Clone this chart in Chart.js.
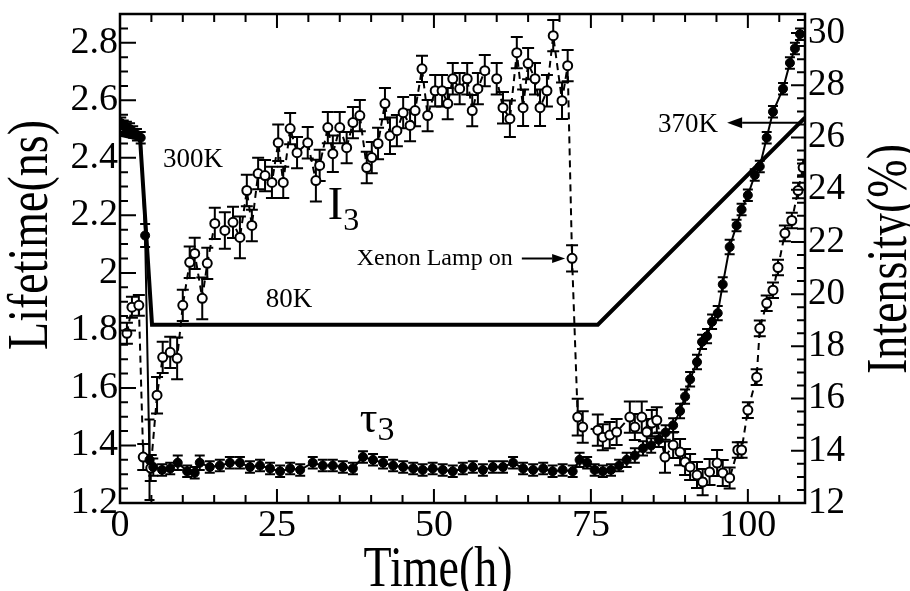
<!DOCTYPE html>
<html><head><meta charset="utf-8">
<script src="https://cdn.jsdelivr.net/npm/chart.js@4.4.1/dist/chart.umd.min.js"></script>
<style>html,body{margin:0;padding:0;background:#fff}canvas{display:block}</style>
</head><body>
<canvas id="c" width="910" height="591"></canvas>
<script>
// ---- tick labels ----
const xTicks = [0, 25, 50, 75, 100];
const leftTicks = [1.2, 1.4, 1.6, 1.8, 2.0, 2.2, 2.4, 2.6, 2.8];
const leftTickLabels = ['1.2', '1.4', '1.6', '1.8', '2', '2.2', '2.4', '2.6', '2.8'];
const rightTicks = [12, 14, 16, 18, 20, 22, 24, 26, 28, 30];

// ---- tau3 lifetime (ns), filled markers, solid line ----
const tauTime = [0.2,0.6,1.1,1.6,2.1,2.7,3.3,4.0,4.7,
  5.3,6.7,8.0,9.2,10.7,11.9,12.7,14.3,15.9,17.5,19.1,20.7,22.3,23.9,25.5,27.1,28.7,30.7,32.3,33.9,
  35.5,37.1,38.7,40.3,41.9,43.5,45.1,46.7,48.2,49.8,51.4,53.0,54.6,56.2,57.8,59.4,61.0,62.6,64.2,65.8,
  67.4,68.9,70.5,
  72.1,73.2,74.4,75.6,76.9,78.2,79.5,80.7,82.0,83.3,84.6,85.8,86.9,88.1,89.2,90.0,90.8,91.9,92.7,93.5,
  94.3,95.2,96.0,97.1,98.2,99.0,100.0,101.1,101.9,103.0,104.0,105.6,106.7,107.5,108.3];
const tau = [2.52,2.51,2.505,2.50,2.49,2.48,2.47,2.13,1.35,
  1.325,1.315,1.32,1.34,1.31,1.305,1.34,1.325,1.33,1.34,1.34,1.325,1.33,1.32,1.31,1.32,1.315,1.34,1.33,1.33,
  1.325,1.32,1.36,1.35,1.34,1.33,1.325,1.32,1.315,1.32,1.315,1.31,1.32,1.325,1.315,1.325,1.325,1.34,1.32,1.315,
  1.32,1.31,1.315,
  1.31,1.35,1.34,1.315,1.31,1.315,1.33,1.35,1.365,1.39,1.40,1.42,1.445,1.47,1.52,1.57,1.63,1.69,1.76,1.78,
  1.83,1.86,1.96,2.09,2.165,2.22,2.27,2.34,2.37,2.47,2.56,2.64,2.73,2.78,2.83];
const tauErr = [0.02,0.02,0.02,0.02,0.02,0.02,0.02,0.04,0.14,
  0.03,0.02,0.02,0.025,0.02,0.02,0.025,0.02,0.02,0.02,0.02,0.02,0.02,0.02,0.02,0.02,0.02,0.02,0.02,0.02,
  0.02,0.02,0.02,0.02,0.02,0.02,0.02,0.02,0.02,0.02,0.02,0.02,0.02,0.02,0.02,0.02,0.02,0.02,0.02,0.02,
  0.02,0.02,0.02,
  0.02,0.025,0.02,0.02,0.02,0.02,0.02,0.025,0.025,0.025,0.025,0.025,0.025,0.025,0.025,0.025,0.025,0.025,0.025,0.025,
  0.025,0.025,0.025,0.025,0.02,0.02,0.02,0.02,0.02,0.02,0.02,0.02,0.02,0.02,0.02];

// ---- I3 intensity (%), open markers, dashed line ----
const intTime = [1.1,1.9,3.0,3.7,4.9,5.9,6.8,8.0,9.1,10.0,
  11.1,11.9,13.1,13.9,15.1,16.7,18.0,19.1,20.2,21.0,
  22.0,23.1,24.2,25.2,26.0,27.1,28.2,29.9,31.2,31.8,
  33.1,33.9,35.0,36.1,37.1,38.2,39.3,40.1,41.1,42.2,
  43.0,44.1,45.1,46.2,47.0,48.1,49.0,50.2,51.3,52.2,
  53.0,54.1,55.3,56.1,57.0,58.1,60.0,61.0,62.1,63.2,
  64.2,65.0,66.1,66.9,68.0,69.0,70.4,71.3,72.0,72.9,
  73.7,76.1,76.9,78.0,79.1,81.2,82.0,83.1,83.9,84.7,
  85.5,86.8,88.1,89.2,90.0,90.8,91.9,92.8,93.9,95.1,
  96.0,97.1,98.4,99.0,100.0,101.4,101.9,103.0,104.0,104.8,
  105.9,107.0,108.0,108.8];
const inten = [18.50,19.50,19.57,13.76,13.34,16.13,17.58,17.77,17.54,19.57,
  21.22,21.56,19.84,21.18,22.71,22.44,22.75,22.17,23.97,22.63,
  24.62,24.54,24.28,25.80,24.28,26.34,25.42,25.80,24.35,24.93,
  26.38,25.38,26.38,25.61,26.57,26.84,24.85,25.23,25.77,27.30,
  26.07,26.26,26.95,26.46,27.03,28.63,26.84,27.79,27.79,27.30,
  28.25,27.87,28.25,27.03,27.87,28.56,28.25,27.14,26.72,29.25,
  27.14,28.83,28.25,27.14,27.79,29.90,27.41,28.75,21.37,15.29,
  14.91,14.79,14.52,14.60,14.72,15.29,14.91,15.29,14.72,15.06,
  15.17,13.76,14.22,13.95,13.57,13.38,13.07,12.80,13.19,13.53,
  13.15,12.96,14.03,14.03,15.56,16.82,18.69,19.65,20.15,21.02,
  22.33,22.82,23.97,24.85];
const intErr = [0.4,0.4,0.4,0.5,0.5,0.7,0.6,0.6,0.8,0.6,
  0.6,0.6,0.8,0.6,0.6,0.7,0.6,0.8,0.6,0.6,
  0.6,0.6,0.6,0.7,0.6,0.6,0.6,0.6,0.8,0.6,
  0.6,0.7,0.6,0.6,0.6,0.6,0.6,0.6,0.6,0.6,
  0.7,0.6,0.6,0.6,0.6,0.5,0.6,0.6,0.6,0.6,
  0.6,0.6,0.6,0.6,0.6,0.6,0.6,0.6,0.7,0.6,
  0.7,0.6,0.6,0.7,0.6,0.6,0.7,0.6,0.5,0.7,
  0.6,0.6,0.5,0.5,0.5,0.6,0.5,0.6,0.5,0.5,
  0.5,0.6,0.5,0.5,0.5,0.5,0.5,0.5,0.5,0.5,
  0.5,0.4,0.3,0.3,0.3,0.3,0.3,0.3,0.3,0.3,
  0.3,0.3,0.3,0.3];

// ---- temperature program (drawn on lifetime scale) ----
const tempTime = [0, 3.2, 5.1, 76.1, 109.1];
const tempLevel = [2.48, 2.465, 1.82, 1.82, 2.54];

const pts = (xs, ys) => xs.map((x, i) => ({x: x, y: ys[i]}));
const SERIF = "'Liberation Serif','Times New Roman',serif";

const errorBars = {
  id: 'errorBars',
  beforeDatasetsDraw(chart) {
    const ctx = chart.ctx, a = chart.chartArea;
    ctx.save();
    ctx.beginPath(); ctx.rect(a.left, a.top, a.right - a.left, a.bottom - a.top); ctx.clip();
    ctx.strokeStyle = '#000'; ctx.lineWidth = 2;
    chart.data.datasets.forEach((ds) => {
      if (!ds.errorBars) return;
      const xs = chart.scales.x, ys = chart.scales[ds.yAxisID];
      ds.data.forEach((p, i) => {
        const e = ds.errorBars[i];
        const px = xs.getPixelForValue(p.x);
        const y1 = ys.getPixelForValue(p.y - e), y2 = ys.getPixelForValue(p.y + e);
        const cw = ds.capHalf;
        ctx.beginPath();
        ctx.moveTo(px, y1); ctx.lineTo(px, y2);
        ctx.moveTo(px - cw, y1); ctx.lineTo(px + cw, y1);
        ctx.moveTo(px - cw, y2); ctx.lineTo(px + cw, y2);
        ctx.stroke();
      });
    });
    ctx.restore();
  }
};

function arrow(ctx, x1, y1, x2, y2, hl, hw) {
  const ang = Math.atan2(y2 - y1, x2 - x1);
  ctx.beginPath(); ctx.moveTo(x1, y1);
  ctx.lineTo(x2 - hl * Math.cos(ang), y2 - hl * Math.sin(ang)); ctx.stroke();
  ctx.save(); ctx.translate(x2, y2); ctx.rotate(ang);
  ctx.beginPath(); ctx.moveTo(0, 0); ctx.lineTo(-hl, -hw / 2); ctx.lineTo(-hl, hw / 2); ctx.closePath(); ctx.fill();
  ctx.restore();
}
function stretched(ctx, text, x, y, rot, sy, font) {
  ctx.save(); ctx.translate(x, y); ctx.rotate(rot); ctx.scale(1, sy);
  ctx.font = font; ctx.textAlign = 'center'; ctx.textBaseline = 'alphabetic';
  ctx.fillText(text, 0, 0); ctx.restore();
}

const decor = {
  id: 'decor',
  beforeDraw(chart) {
    const ctx = chart.ctx; ctx.save(); ctx.fillStyle = '#fff';
    ctx.fillRect(0, 0, chart.width, chart.height); ctx.restore();
  },
  afterDraw(chart) {
    const ctx = chart.ctx, a = chart.chartArea;
    const xs = chart.scales.x, yl = chart.scales.y, yr = chart.scales.y1;
    ctx.save();
    ctx.strokeStyle = '#000'; ctx.fillStyle = '#000';
    // frame
    ctx.lineWidth = 2.5;
    ctx.strokeRect(a.left, a.top, a.right - a.left, a.bottom - a.top);
    // ticks (inward)
    ctx.lineWidth = 2;
    ctx.beginPath();
    for (let v = 0; v <= 109; v += 5) {
      const px = xs.getPixelForValue(v);
      const major = xTicks.includes(v);
      const L = major ? 14 : 8;
      ctx.moveTo(px, a.bottom); ctx.lineTo(px, a.bottom - L);
      ctx.moveTo(px, a.top); ctx.lineTo(px, a.top + L);
    }
    for (let k = 0; k <= 34; k++) {
      const v = 1.2 + k * 0.05;
      const py = yl.getPixelForValue(v);
      const L = (k % 4 === 0) ? 16 : 8;
      ctx.moveTo(a.left, py); ctx.lineTo(a.left + L, py);
    }
    for (let k = 0; k <= 37; k++) {
      const v = 12 + k * 0.5;
      const py = yr.getPixelForValue(v);
      const L = (k % 4 === 0) ? 14 : 8;
      ctx.moveTo(a.right, py); ctx.lineTo(a.right - L, py);
    }
    ctx.stroke();

    // axis titles
    ctx.fillStyle = '#000';
    stretched(ctx, 'Time(h)', 438, 586, 0, 1.22, '46px ' + SERIF);
    stretched(ctx, 'Lifetime(ns)', 47, 235, -Math.PI / 2, 1.22, '46px ' + SERIF);
    stretched(ctx, 'Intensity(%)', 906, 259, -Math.PI / 2, 1.22, '46px ' + SERIF);

    // annotations
    const X = (v) => xs.getPixelForValue(v), Y = (v) => yl.getPixelForValue(v);
    ctx.textAlign = 'left'; ctx.textBaseline = 'middle';
    ctx.font = '27px ' + SERIF;
    ctx.fillText('300K', X(6.85), Y(2.394));
    ctx.fillText('80K', X(23.2), Y(1.905));
    ctx.fillText('370K', X(85.7), Y(2.516));
    ctx.font = '24px ' + SERIF;
    ctx.fillText('Xenon Lamp on', X(37.7), Y(2.05));
    ctx.lineWidth = 2;
    arrow(ctx, X(64.0), Y(2.05), X(70.9), Y(2.05), 13, 9);
    arrow(ctx, X(108.3), Y(2.522), X(96.7), Y(2.522), 15, 11);

    ctx.textBaseline = 'alphabetic';
    ctx.font = '46px ' + SERIF;
    const ix = X(33.1), iy = Y(2.186);
    ctx.fillText('I', ix, iy);
    const iw = ctx.measureText('I').width;
    ctx.font = '32px ' + SERIF;
    ctx.fillText('3', ix + iw, iy + 11);

    ctx.font = '44px ' + SERIF;
    const tx = X(38.2), ty = Y(1.446);
    ctx.fillText('\u03c4', tx, ty);
    const tw = ctx.measureText('\u03c4').width;
    ctx.font = '34px ' + SERIF;
    ctx.fillText('3', tx + tw, ty + 8);
    ctx.restore();
  }
};

const tickCfg = (arr) => (scale) => { scale.ticks = arr.map(v => ({value: v})); };
const noPad = (s) => { s.paddingTop = 0; s.paddingBottom = 0; s.paddingLeft = 0; s.paddingRight = 0; };

new Chart(document.getElementById('c'), {
  type: 'scatter',
  data: {
    datasets: [
      {
        label: 'tau3', data: pts(tauTime, tau), yAxisID: 'y', showLine: true,
        borderColor: '#000', borderWidth: 2, pointRadius: 4.5, pointStyle: 'circle',
        pointBackgroundColor: '#000', pointBorderColor: '#000', pointBorderWidth: 1,
        errorBars: tauErr, capHalf: 5, order: 1
      },
      {
        label: 'I3', data: pts(intTime, inten), yAxisID: 'y1', showLine: true,
        borderColor: '#000', borderWidth: 2, borderDash: [7, 5], pointRadius: 4.5,
        pointBackgroundColor: '#fff', pointBorderColor: '#000', pointBorderWidth: 2,
        errorBars: intErr, capHalf: 6, order: 2
      },
      {
        label: 'T', data: pts(tempTime, tempLevel), yAxisID: 'y', showLine: true,
        borderColor: '#000', borderWidth: 4, pointRadius: 0, order: 3
      }
    ]
  },
  options: {
    responsive: false, animation: false,
    layout: {padding: {top: 14, left: 0, right: 0, bottom: 0}},
    plugins: {legend: {display: false}, tooltip: {enabled: false}},
    scales: {
      x: {
        type: 'linear', min: 0, max: 109.1,
        grid: {display: false, drawTicks: false}, border: {display: false},
        afterBuildTicks: tickCfg(xTicks),
        ticks: {color: '#000', font: {family: SERIF, size: 38}, padding: 0, maxRotation: 0,
          callback: (v) => String(v)},
        afterFit(s) { s.height = 88; noPad(s); }
      },
      y: {
        type: 'linear', position: 'left', min: 1.2, max: 2.9,
        grid: {display: false, drawTicks: false}, border: {display: false},
        afterBuildTicks: tickCfg(leftTicks),
        ticks: {color: '#000', font: {family: SERIF, size: 38}, padding: 2,
          callback: (v) => { const i = leftTicks.findIndex(t => Math.abs(t - v) < 1e-6); return i >= 0 ? leftTickLabels[i] : ''; }},
        afterFit(s) { s.width = 120; noPad(s); }
      },
      y1: {
        type: 'linear', position: 'right', min: 12, max: 30.73,
        grid: {display: false, drawTicks: false}, border: {display: false},
        afterBuildTicks: tickCfg(rightTicks),
        ticks: {color: '#000', font: {family: SERIF, size: 37}, padding: 3,
          callback: (v) => String(v)},
        afterFit(s) { s.width = 105; noPad(s); }
      }
    }
  },
  plugins: [errorBars, decor]
});
</script>
</body></html>
